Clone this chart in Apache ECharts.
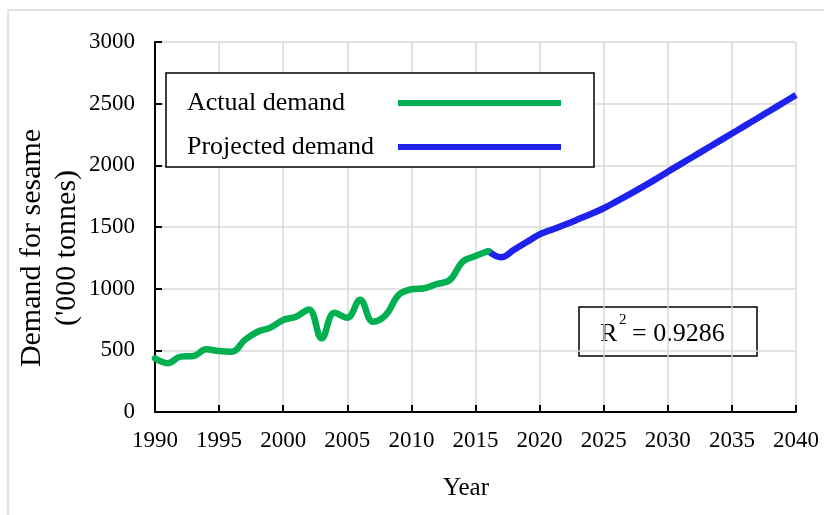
<!DOCTYPE html>
<html>
<head>
<meta charset="utf-8">
<script src="https://cdn.jsdelivr.net/npm/echarts@6/dist/echarts.min.js"></script>
<style>
  html, body { margin: 0; padding: 0; background: #fff; }
  #chart { width: 824px; height: 515px; }
</style>
</head>
<body>
<div id="chart"></div>
<script>
// Observed demand for sesame, '000 tonnes
const actualYears = [1990, 1991, 1992, 1993, 1994, 1995, 1996, 1997, 1998, 1999,
  2000, 2001, 2002, 2003, 2004, 2005, 2006, 2007, 2008, 2009,
  2010, 2011, 2012, 2013, 2014, 2015, 2016];
const actualValues = [435, 395, 449, 454, 508, 494, 489, 584, 651, 684,
  746, 773, 832, 597, 805, 765, 910, 732, 786, 949,
  995, 1003, 1038, 1070, 1219, 1265, 1305];

// Projected demand, '000 tonnes
const projectedYears = [2016, 2017, 2018, 2019, 2020, 2021, 2022, 2023, 2024, 2025,
  2026, 2027, 2028, 2029, 2030, 2031, 2032, 2033, 2034, 2035,
  2036, 2037, 2038, 2039, 2040];
const projectedValues = [1305, 1254, 1315, 1378, 1440, 1480, 1520, 1562, 1605, 1652,
  1708, 1765, 1823, 1884, 1948, 2010, 2072, 2134, 2196, 2258,
  2320, 2382, 2445, 2507, 2570];

const seriesNames = ['Actual demand', 'Projected demand'];
const rSquaredLabel = '0.9286';

const FONT = '"Liberation Serif", "Times New Roman", serif';
const GRID_COLOR = '#d9d9d9';

const pairs = (xs, ys) => xs.map((x, i) => [x, ys[i]]);
const plain = v => String(v);

const chart = echarts.init(document.getElementById('chart'));

chart.setOption({
  backgroundColor: '#fff',
  animation: false,
  grid: { left: 155, right: 28, top: 42, bottom: 103, containLabel: false, outerBoundsMode: 'none' },
  xAxis: {
    type: 'value',
    min: 1990,
    max: 2040,
    interval: 5,
    name: 'Year',
    nameLocation: 'middle',
    nameGap: 64,
    nameMoveOverlap: false,
    nameTextStyle: { fontFamily: FONT, fontSize: 25, color: '#000', padding: [0, 19, 0, 0] },
    axisLine: { show: true, onZero: false, lineStyle: { color: '#000', width: 2 } },
    axisTick: { show: true, inside: true, length: 7, lineStyle: { color: '#000', width: 2 } },
    axisLabel: { fontFamily: FONT, fontSize: 23, color: '#000', margin: 17, formatter: plain },
    splitLine: { show: true, lineStyle: { color: GRID_COLOR, width: 1.5 } }
  },
  yAxis: {
    type: 'value',
    min: 0,
    max: 3000,
    interval: 500,
    name: "Demand for sesame\n('000 tonnes)",
    nameLocation: 'middle',
    nameRotate: 90,
    nameGap: 70,
    nameMoveOverlap: false,
    nameTextStyle: { fontFamily: FONT, fontSize: 30, color: '#000', lineHeight: 35, padding: [0, 42, 0, 0] },
    axisLine: { show: true, lineStyle: { color: '#000', width: 2 } },
    axisTick: { show: true, inside: true, length: 7, lineStyle: { color: '#000', width: 2 } },
    axisLabel: { fontFamily: FONT, fontSize: 23, color: '#000', margin: 20, formatter: plain },
    splitLine: { show: true, lineStyle: { color: GRID_COLOR, width: 1.5 } }
  },
  legend: {
    left: 166,
    top: 73,
    orient: 'vertical',
    align: 'right',
    icon: 'rect',
    itemWidth: 163,
    itemHeight: 6,
    itemGap: 14,
    padding: [15, 33, 5, 21],
    borderColor: '#000',
    borderWidth: 1.5,
    backgroundColor: '#fff',
    selectedMode: false,
    formatter: name => '{t|' + name + '}',
    textStyle: {
      fontFamily: FONT, fontSize: 26, color: '#000', lineHeight: 30,
      rich: { t: { width: 206, align: 'left', fontFamily: FONT, fontSize: 26, color: '#000', lineHeight: 30 } }
    },
    data: seriesNames
  },
  series: [
    {
      name: seriesNames[0],
      type: 'line',
      data: pairs(actualYears, actualValues),
      smooth: 0.4,
      showSymbol: false,
      color: '#00b050',
      lineStyle: { color: '#00b050', width: 6.5, cap: 'round', join: 'round' },
      z: 3
    },
    {
      name: seriesNames[1],
      type: 'line',
      data: pairs(projectedYears, projectedValues),
      smooth: 0.4,
      showSymbol: false,
      color: '#1e22ee',
      lineStyle: { color: '#1e22ee', width: 6.5, cap: 'butt', join: 'round' },
      z: 2
    }
  ],
  graphic: [
    {
      type: 'rect',
      silent: true,
      z: -10,
      shape: { x: 8, y: 10, width: 900, height: 600 },
      style: { fill: 'none', stroke: GRID_COLOR, lineWidth: 1.5 }
    },
    {
      type: 'group',
      z: 100,
      children: [
        {
          type: 'rect',
          shape: { x: 579, y: 307, width: 178, height: 49 },
          style: { fill: '#fff', stroke: '#000', lineWidth: 1.5 }
        },
        {
          type: 'text',
          style: { x: 600, y: 334, text: 'R', font: '26px ' + FONT, fill: '#000',
                   textAlign: 'left', textVerticalAlign: 'middle' }
        },
        {
          type: 'text',
          style: { x: 619, y: 320, text: '2', font: '15px ' + FONT, fill: '#000',
                   textAlign: 'left', textVerticalAlign: 'middle' }
        },
        {
          type: 'text',
          style: { x: 632, y: 334, text: '= ' + rSquaredLabel, font: '26px ' + FONT, fill: '#000',
                   textAlign: 'left', textVerticalAlign: 'middle' }
        }
      ]
    }
  ]
});
</script>
</body>
</html>
